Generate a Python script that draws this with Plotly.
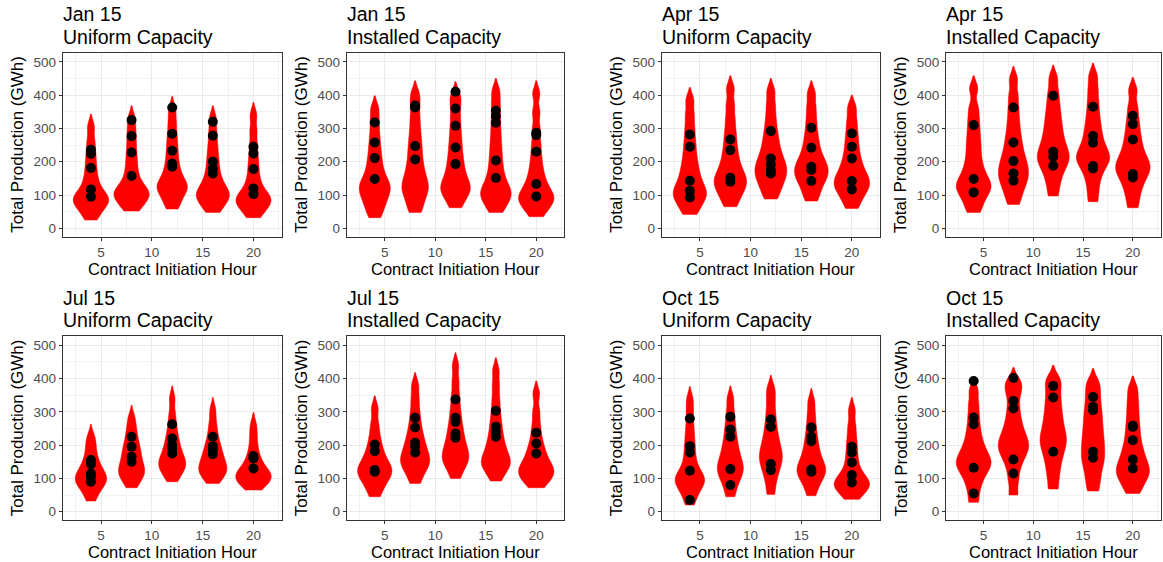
import plotly.graph_objects as go

# ---------------- data ----------------
hours = [4, 8, 12, 16, 20]
panel_months = ["Jan 15", "Jan 15", "Apr 15", "Apr 15", "Jul 15", "Jul 15", "Oct 15", "Oct 15"]
panel_types = ["Uniform Capacity", "Installed Capacity"] * 4
x_tick_vals = [5, 10, 15, 20]
y_tick_vals = [0, 100, 200, 300, 400, 500]
x_label = "Contract Initiation Hour"
y_label = "Total Production (GWh)"

# distributions (GWh) estimated from the violin shapes, one list per hour
jan_uniform_dist = [
    [25, 45, 60, 70, 78, 85, 92, 100, 110, 125, 145, 168, 195, 225, 260, 305],
    [52, 68, 80, 90, 98, 105, 112, 120, 132, 150, 172, 198, 226, 258, 292, 330],
    [58, 78, 95, 108, 118, 126, 134, 145, 160, 178, 200, 225, 252, 282, 318, 358],
    [48, 65, 78, 88, 96, 104, 112, 122, 135, 152, 172, 196, 222, 252, 288, 330],
    [32, 50, 62, 72, 80, 87, 94, 102, 115, 132, 155, 182, 212, 248, 292, 340],
]
jan_installed_dist = [
    [32, 55, 72, 88, 100, 112, 122, 132, 143, 158, 176, 198, 222, 250, 282, 320, 360],
    [48, 70, 90, 105, 118, 130, 142, 158, 175, 195, 218, 242, 268, 298, 332, 370, 405],
    [62, 85, 100, 112, 122, 132, 145, 160, 178, 198, 220, 245, 272, 302, 336, 372, 402],
    [48, 68, 82, 94, 104, 114, 125, 140, 158, 180, 205, 232, 262, 295, 332, 372, 412],
    [35, 55, 68, 78, 87, 95, 104, 115, 128, 145, 165, 190, 220, 255, 298, 348, 405],
]
apr_uniform_dist = [
    [42, 62, 78, 90, 100, 110, 120, 132, 148, 165, 185, 208, 235, 265, 300, 340, 385],
    [65, 88, 105, 118, 130, 140, 150, 162, 175, 192, 212, 235, 262, 292, 328, 370, 420],
    [88, 110, 128, 142, 155, 166, 177, 188, 200, 214, 230, 250, 272, 298, 330, 368, 412],
    [82, 105, 125, 140, 152, 163, 173, 183, 194, 207, 222, 242, 265, 292, 325, 362, 405],
    [60, 85, 102, 115, 126, 136, 146, 157, 170, 186, 205, 228, 255, 285, 320, 362],
]
apr_installed_dist = [
    [48, 72, 92, 106, 118, 128, 138, 150, 166, 185, 208, 235, 262, 292, 325, 362, 420],
    [72, 98, 118, 134, 148, 160, 172, 185, 198, 213, 230, 250, 272, 298, 328, 362, 400, 448],
    [97, 130, 155, 175, 190, 202, 213, 224, 236, 250, 266, 284, 304, 326, 350, 378, 410, 452],
    [80, 115, 145, 168, 185, 198, 208, 218, 229, 242, 258, 277, 298, 322, 350, 382, 418, 458],
    [62, 95, 120, 140, 156, 168, 179, 190, 201, 214, 230, 250, 272, 298, 328, 365, 415],
]
jul_uniform_dist = [
    [32, 55, 70, 80, 88, 95, 102, 109, 117, 127, 140, 155, 175, 200, 225],
    [72, 92, 104, 113, 121, 130, 140, 152, 165, 178, 192, 208, 228, 252, 282],
    [90, 110, 122, 132, 140, 148, 157, 168, 180, 195, 212, 232, 258, 292, 340],
    [85, 102, 112, 120, 128, 136, 145, 156, 168, 180, 195, 212, 235, 265, 305],
    [65, 78, 87, 94, 100, 106, 112, 118, 126, 136, 150, 168, 192, 225, 260],
]
jul_installed_dist = [
    [45, 68, 85, 97, 107, 116, 124, 132, 141, 152, 166, 182, 202, 228, 262, 310],
    [85, 110, 126, 138, 148, 158, 168, 180, 193, 208, 225, 245, 270, 300, 338, 380],
    [100, 125, 140, 152, 162, 172, 183, 196, 210, 226, 244, 264, 288, 316, 350, 392, 440],
    [92, 115, 128, 138, 147, 156, 166, 178, 192, 208, 226, 248, 272, 302, 338, 380, 425],
    [72, 88, 99, 108, 116, 124, 132, 141, 152, 166, 182, 200, 225, 258, 300, 355],
]
oct_uniform_dist = [
    [20, 45, 62, 74, 84, 92, 100, 108, 118, 132, 152, 175, 200, 228, 260, 300, 338],
    [45, 72, 92, 106, 118, 128, 138, 150, 163, 178, 195, 215, 238, 265, 298, 340],
    [52, 85, 110, 128, 143, 156, 168, 180, 194, 210, 228, 250, 275, 305, 340, 372],
    [48, 75, 92, 105, 115, 124, 133, 143, 155, 170, 187, 207, 230, 258, 292, 332],
    [37, 55, 66, 74, 81, 88, 96, 106, 120, 140, 165, 192, 222, 258, 305],
]
oct_installed_dist = [
    [28, 65, 92, 112, 126, 138, 148, 158, 170, 185, 202, 225, 252, 285, 322, 365],
    [50, 95, 130, 155, 172, 186, 198, 210, 224, 240, 260, 285, 315, 350, 375, 395],
    [68, 105, 135, 160, 180, 197, 212, 226, 242, 260, 280, 302, 326, 352, 380, 402],
    [62, 92, 118, 140, 158, 175, 192, 210, 228, 248, 268, 290, 312, 338, 365, 392],
    [55, 78, 95, 108, 119, 130, 142, 156, 172, 190, 212, 238, 266, 298, 332, 370],
]

# highlighted points (GWh), one list per hour
jan_uniform_pts = [[95, 117, 181, 224, 236], [157, 228, 277, 325], [185, 195, 233, 284, 363],
                   [165, 180, 200, 278, 320], [103, 120, 178, 225, 245]]
jan_installed_pts = [[148, 211, 258, 318], [207, 247, 363, 369], [193, 243, 308, 360, 410],
                     [151, 204, 317, 337, 353], [96, 133, 230, 280, 287]]
apr_uniform_pts = [[93, 113, 143, 245, 282], [140, 152, 235, 267], [165, 175, 192, 210, 292],
                   [142, 175, 185, 242, 302], [117, 142, 210, 245, 285]]
apr_installed_pts = [[108, 148, 310], [143, 165, 202, 258, 363], [188, 215, 230, 398],
                     [180, 187, 257, 277, 365], [153, 163, 267, 313, 338]]
jul_uniform_pts = [[90, 105, 115, 143, 155], [150, 165, 195, 225], [175, 190, 200, 220, 263],
                   [173, 185, 197, 225], [130, 160, 167]]
jul_installed_pts = [[120, 125, 182, 202], [178, 195, 207, 253, 282], [222, 235, 270, 282, 337],
                     [225, 240, 255, 303], [175, 205, 237]]
oct_uniform_pts = [[35, 123, 178, 197, 280], [80, 128, 225, 247, 285], [125, 143, 255, 277],
                   [120, 127, 212, 225, 253], [88, 110, 148, 178, 195]]
oct_installed_pts = [[55, 132, 263, 283, 393], [115, 157, 310, 333, 402], [180, 343, 378],
                     [162, 180, 305, 315, 345], [130, 157, 215, 255, 258]]

panel_dists = [jan_uniform_dist, jan_installed_dist, apr_uniform_dist, apr_installed_dist,
               jul_uniform_dist, jul_installed_dist, oct_uniform_dist, oct_installed_dist]
panel_pts = [jan_uniform_pts, jan_installed_pts, apr_uniform_pts, apr_installed_pts,
             jul_uniform_pts, jul_installed_pts, oct_uniform_pts, oct_installed_pts]

# ---------------- layout geometry (pixels) ----------------
W, H = 1163, 562
col_left = [62.7, 346.7, 661.7, 946.0]
col_right = [281.7, 564.3, 880.0, 1160.5]
row_top = [52.5, 336.0]
row_bottom = [236.7, 520.0]

FONT = "Liberation Sans, Arial, Helvetica, sans-serif"
RED = "#FF0000"
BW = 20          # kernel bandwidth (GWh)
TIP = 38         # how far the tapering tip runs past the top sample

fig = go.Figure()
annotations = []
layout_axes = {}


def px_x(p):
    return p / W


def px_y(p):
    return 1 - p / H


for i in range(8):
    r, c = divmod(i, 4)
    n = i + 1
    xa = "x" if n == 1 else f"x{n}"
    ya = "y" if n == 1 else f"y{n}"
    dist = panel_dists[i]
    pts = panel_pts[i]

    for h, vals in zip(hours, dist):
        fig.add_trace(go.Violin(
            x=[h] * len(vals), y=vals, xaxis=xa, yaxis=ya,
            bandwidth=BW, spanmode="manual", span=[min(vals), max(vals) + TIP],
            scalemode="width", scalegroup=f"panel{n}",
            points=False, box_visible=False, meanline_visible=False,
            fillcolor=RED, line=dict(color=RED, width=0.5), opacity=1,
            showlegend=False, hoverinfo="skip",
        ))
    px_ = [h for h, vals in zip(hours, pts) for _ in vals]
    py_ = [v for vals in pts for v in vals]
    fig.add_trace(go.Scatter(
        x=px_, y=py_, xaxis=xa, yaxis=ya, mode="markers",
        marker=dict(color="black", size=10, line=dict(width=0)),
        showlegend=False, hoverinfo="skip",
    ))

    xdom = [px_x(col_left[c]), px_x(col_right[c])]
    ydom = [px_y(row_bottom[r]), px_y(row_top[r])]
    common = dict(
        showline=True, linecolor="#333333", linewidth=1, mirror=True,
        ticks="outside", ticklen=3, tickwidth=1, tickcolor="#333333",
        tickfont=dict(size=13.5, color="#4D4D4D", family=FONT),
        showgrid=True, gridcolor="#EBEBEB", gridwidth=1.1, zeroline=False,
    )
    layout_axes["xaxis" if n == 1 else f"xaxis{n}"] = dict(
        domain=xdom, anchor=ya, range=[1.22, 22.78], tickmode="array", tickvals=x_tick_vals,
        minor=dict(dtick=2.5, tick0=0, showgrid=True, gridcolor="#F2F2F2", gridwidth=0.6, ticks=""),
        **common)
    layout_axes["yaxis" if n == 1 else f"yaxis{n}"] = dict(
        domain=ydom, anchor=xa, range=[-25, 528], tickmode="array", tickvals=y_tick_vals,
        minor=dict(dtick=50, tick0=0, showgrid=True, gridcolor="#F2F2F2", gridwidth=0.6, ticks=""),
        **common)

    # titles
    annotations.append(dict(text=panel_months[i], x=px_x(col_left[c] - 2), y=px_y(row_top[r] - 38),
                            xref="paper", yref="paper", xanchor="left", yanchor="middle",
                            showarrow=False, font=dict(size=19.5, color="black", family=FONT)))
    annotations.append(dict(text=panel_types[i], x=px_x(col_left[c] - 2), y=px_y(row_top[r] - 16),
                            xref="paper", yref="paper", xanchor="left", yanchor="middle",
                            showarrow=False, font=dict(size=19.5, color="black", family=FONT)))
    # axis titles
    annotations.append(dict(text=x_label, x=px_x((col_left[c] + col_right[c]) / 2),
                            y=px_y(row_bottom[r] + 32), xref="paper", yref="paper",
                            xanchor="center", yanchor="middle", showarrow=False, borderpad=0,
                            font=dict(size=16.5, color="black", family=FONT)))
    annotations.append(dict(text=y_label, x=px_x(col_left[c] - 45.5),
                            y=px_y((row_top[r] + row_bottom[r]) / 2), xref="paper", yref="paper",
                            xanchor="center", yanchor="middle", textangle=-90, showarrow=False,
                            font=dict(size=17, color="black", family=FONT)))

fig.update_layout(
    width=W, height=H, margin=dict(l=0, r=0, t=0, b=0),
    paper_bgcolor="white", plot_bgcolor="white",
    font=dict(family=FONT), violinmode="overlay", violingap=0.125, violingroupgap=0,
    annotations=annotations, **layout_axes,
)

fig.write_html("out.html")
